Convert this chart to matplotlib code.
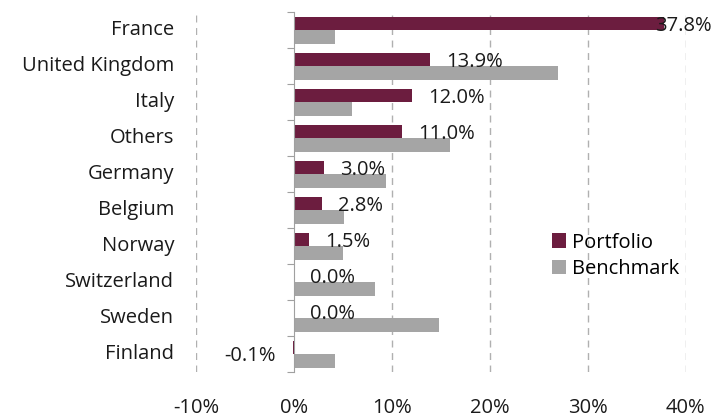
import matplotlib.pyplot as plt
import numpy as np

countries = ['France', 'United Kingdom', 'Italy', 'Others', 'Germany',
             'Belgium', 'Norway', 'Switzerland', 'Sweden', 'Finland']
portfolio = [37.8, 13.9, 12.0, 11.0, 3.0, 2.8, 1.5, 0.0, 0.0, -0.1]
benchmark = [4.2, 26.9, 5.9, 15.9, 9.4, 5.1, 5.0, 8.2, 14.8, 4.2]
xticks = [-10, 0, 10, 20, 30, 40]

PORT_COLOR = '#6c1d3f'
BENCH_COLOR = '#a5a5a5'
FS = 14.5

plt.rcParams['font.family'] = ['Open Sans', 'DejaVu Sans']

fig = plt.figure(figsize=(7.19, 4.19), dpi=100)
ax = fig.add_axes([0.273, 0.112, 0.681, 0.859])

y = np.arange(len(countries))
h = 0.375
ax.barh(y - h / 2, portfolio, height=h, color=PORT_COLOR, label='Portfolio')
ax.barh(y + h / 2, benchmark, height=h, color=BENCH_COLOR, label='Benchmark')

ax.set_xlim(-10, 40)
ax.set_ylim(len(countries) - 0.5, -0.5)

# value labels for the portfolio series
for i, v in enumerate(portfolio):
    txt = f'{v:.1f}%'
    if v < 0:
        ax.annotate(txt, (v, i), xytext=(-17, -2), textcoords='offset pixels',
                    ha='right', va='center', fontsize=FS, color='#1a1a1a')
    else:
        ax.annotate(txt, (min(v, 35.2), i), xytext=(16, 4), textcoords='offset pixels',
                    ha='left', va='center', fontsize=FS, color='#1a1a1a')

# category names on the far left
for i, name in enumerate(countries):
    ax.text(-0.045, i, name, transform=ax.get_yaxis_transform(),
            ha='right', va='center', fontsize=FS, color='#1a1a1a')

for s in ['top', 'right', 'bottom']:
    ax.spines[s].set_visible(False)
ax.spines['left'].set_position(('data', 0))
ax.spines['left'].set_color('#a0a0a0')
ax.set_yticks(np.arange(len(countries) + 1) - 0.5)
ax.set_yticklabels([])
ax.tick_params(axis='y', length=5, color='#a0a0a0')

ax.set_xticks(xticks)
ax.set_xticklabels([f'{t}%' for t in xticks], fontsize=FS, color='#1a1a1a')
ax.tick_params(axis='x', length=0, pad=19)
for t in xticks:
    if t != 0:
        ax.axvline(t, color='#b0b0b0', linestyle=(0, (5, 4)), linewidth=1, zorder=0)

ax.legend(loc='upper left', bbox_to_anchor=(0.71, 0.41), frameon=False,
          fontsize=FS, handlelength=0.7, handleheight=0.7, handletextpad=0.3,
          labelspacing=0.3, borderaxespad=0)

fig.savefig('out.png', dpi=100)
